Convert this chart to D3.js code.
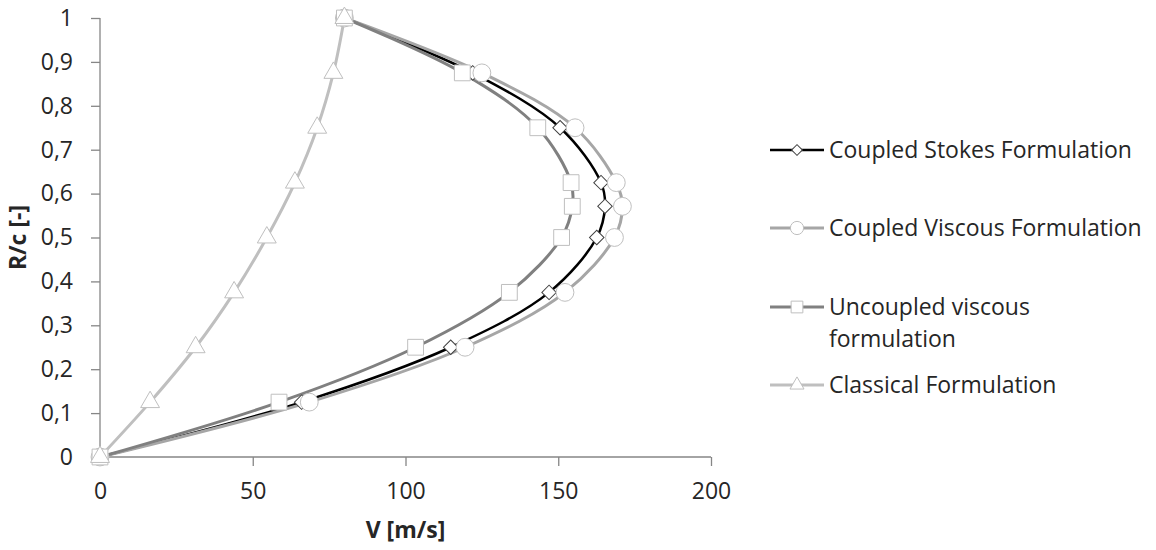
<!DOCTYPE html>
<html>
<head>
<meta charset="utf-8">
<script src="https://cdn.jsdelivr.net/npm/d3@7"></script>
<style>
  body { margin: 0; background: #fff; }
  #chart { width: 1156px; height: 550px; }
  text { font-family: "Open Sans", sans-serif; fill: #262626; }
  .axisLabel { font-weight: bold; font-size: 23px; }
</style>
</head>
<body>
<div id="chart"></div>
<script>
// R/c positions (shared by the three coupled / uncoupled series)
var rc = [0, 0.125, 0.25, 0.375, 0.5, 0.571, 0.625, 0.75, 0.875, 1];
var rcClassical = [0, 0.125, 0.25, 0.375, 0.5, 0.625, 0.75, 0.875, 1];

var vStokes = [0, 66, 114.8, 147, 162.6, 165.3, 164, 150.6, 122, 80];
var vViscous = [0, 68.5, 119.5, 152.2, 168.4, 171, 169, 155.5, 125, 80];
var vUncoupled = [0, 58.6, 103.3, 134, 151.1, 154.6, 154.2, 143.3, 118.6, 80];
var vClassical = [0, 16.4, 31.3, 43.9, 54.6, 63.8, 71.1, 76.4, 80];

var seriesNames = ["Coupled Stokes Formulation", "Coupled Viscous Formulation", "Uncoupled viscous formulation", "Classical Formulation"];

var xTicks = [0, 50, 100, 150, 200];
var yTicks = [0, 0.1, 0.2, 0.3, 0.4, 0.5, 0.6, 0.7, 0.8, 0.9, 1];

var width = 1156, height = 550;
var margin = {top: 18, left: 100, right: 445, bottom: 93};

var svg = d3.select("#chart")
    .append("svg")
    .attr("width", width)
    .attr("height", height);

var xScale = d3.scaleLinear()
    .domain([0, 200])
    .range([margin.left, width - margin.right]);

var yScale = d3.scaleLinear()
    .domain([0, 1])
    .range([height - margin.bottom, margin.top]);

var series = [
    {name: seriesNames[0], v: vStokes, r: rc, line: "#000000", lw: 2.5, marker: d3.symbolSquare, rot: 45, mStroke: "#404040", mSize: 105},
    {name: seriesNames[1], v: vViscous, r: rc, line: "#a6a6a6", lw: 3, marker: d3.symbolCircle, rot: 0, mStroke: "#bfbfbf", mSize: 250},
    {name: seriesNames[2], v: vUncoupled, r: rc, line: "#808080", lw: 3, marker: d3.symbolSquare, rot: 0, mStroke: "#bfbfbf", mSize: 250},
    {name: seriesNames[3], v: vClassical, r: rcClassical, line: "#bfbfbf", lw: 3, marker: d3.symbolTriangle, rot: 0, mStroke: "#bfbfbf", mSize: 155}
];

// axes
var xAxis = svg.append("g")
    .attr("transform", `translate(0,${height - margin.bottom})`)
    .call(d3.axisBottom(xScale).tickValues(xTicks).tickSize(9).tickPadding(17).tickFormat(d3.format("d")));

var yAxis = svg.append("g")
    .attr("transform", `translate(${margin.left},0)`)
    .call(d3.axisLeft(yScale).tickValues(yTicks).tickSize(9).tickPadding(18)
        .tickFormat(function(d) { return String(d).replace(".", ","); }));

svg.selectAll(".domain, .tick line").attr("stroke", "#868686").attr("stroke-width", 1.3);
svg.selectAll(".tick text").style("font-size", "23px").style("font-family", "'Open Sans', sans-serif").attr("fill", "#262626");
// straight axis lines, no end caps
xAxis.select(".domain").attr("d", `M${xScale(0)},0H${xScale(200)}`);
yAxis.select(".domain").attr("d", `M0,${yScale(0)}V${yScale(1)}`);

svg.append("text")
    .attr("class", "axisLabel")
    .attr("x", xScale(100))
    .attr("y", 538)
    .attr("text-anchor", "middle")
    .text("V [m/s]");

svg.append("text")
    .attr("class", "axisLabel")
    .attr("transform", "rotate(-90)")
    .attr("x", -yScale(0.5))
    .attr("y", 26)
    .attr("text-anchor", "middle")
    .text("R/c [-]");

var line = d3.line()
    .x(function(d) { return xScale(d[0]); })
    .y(function(d) { return yScale(d[1]); })
    .curve(d3.curveCatmullRom.alpha(0.5));

series.forEach(function(s) {
    var pts = s.v.map(function(v, i) { return [v, s.r[i]]; });
    svg.append("path")
        .datum(pts)
        .attr("d", line)
        .attr("fill", "none")
        .attr("stroke", s.line)
        .attr("stroke-width", s.lw);
});

series.forEach(function(s) {
    var pts = s.v.map(function(v, i) { return [v, s.r[i]]; });
    svg.selectAll(null)
        .data(pts)
        .enter()
        .append("path")
        .attr("d", d3.symbol().type(s.marker).size(s.mSize))
        .attr("transform", function(d) { return `translate(${xScale(d[0])},${yScale(d[1])}) rotate(${s.rot})`; })
        .attr("fill", "#ffffff")
        .attr("stroke", s.mStroke)
        .attr("stroke-width", 1);
});

// legend
var legendY = [150, 228, 307, 385];
var legend = svg.append("g");
series.forEach(function(s, i) {
    var g = legend.append("g").attr("transform", `translate(0,${legendY[i]})`);
    g.append("line")
        .attr("x1", 770).attr("x2", 824)
        .attr("stroke", s.line)
        .attr("stroke-width", s.lw);
    g.append("path")
        .attr("d", d3.symbol().type(s.marker).size(s.mSize * 0.55))
        .attr("transform", `translate(797,0) rotate(${s.rot})`)
        .attr("fill", "#ffffff")
        .attr("stroke", s.mStroke);
    if (i == 2) {
        g.append("text").attr("x", 829).attr("y", 0).attr("dy", "0.35em")
            .style("font-size", "23px").text("Uncoupled viscous");
        g.append("text").attr("x", 829).attr("y", 32).attr("dy", "0.35em")
            .style("font-size", "23px").text("formulation");
    } else {
        g.append("text").attr("x", 829).attr("y", 0).attr("dy", "0.35em")
            .style("font-size", "23px").text(s.name);
    }
});
</script>
</body>
</html>
